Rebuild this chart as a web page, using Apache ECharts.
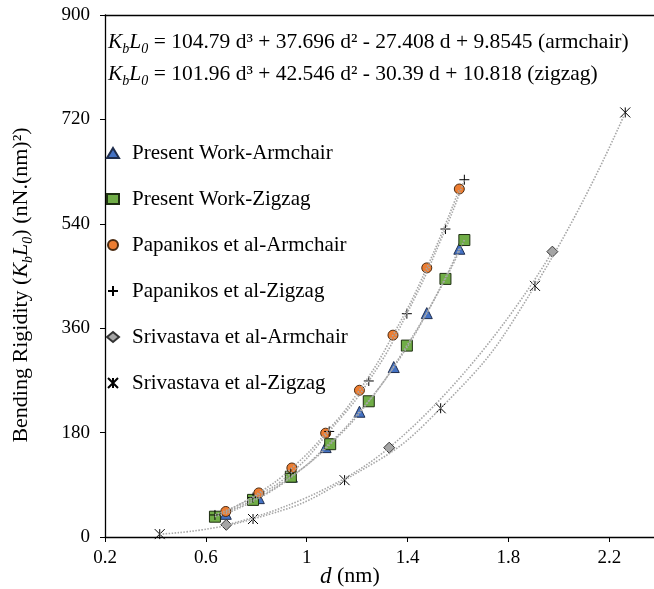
<!DOCTYPE html>
<html>
<head>
<meta charset="utf-8">
<script src="https://cdn.jsdelivr.net/npm/echarts@6/dist/echarts.min.js"></script>
<style>
  html, body { margin: 0; padding: 0; background: #fff; }
  #chart { width: 654px; height: 589px; }
</style>
</head>
<body>
<div id="chart"></div>
<script>
// data: d (nm) and KbL0 (nN.(nm)^2)
var dPresentArm = [0.679, 0.81, 0.941, 1.075, 1.209, 1.345, 1.476, 1.605];
var kPresentArm = [40, 67, 104, 155, 216, 293, 386, 497];
var dPresentZig = [0.636, 0.787, 0.937, 1.093, 1.246, 1.397, 1.55, 1.625];
var kPresentZig = [35, 64, 104, 160, 234, 330, 445, 512];
var dPapArm = [0.679, 0.81, 0.941, 1.075, 1.209, 1.342, 1.476, 1.605];
var kPapArm = [44, 76, 119, 179, 253, 348, 464, 600];
var dPapZig = [0.636, 0.787, 0.937, 1.089, 1.246, 1.397, 1.55, 1.625];
var kPapZig = [38, 68, 110, 182, 269, 385, 531, 616];
var dSriArm = [0.681, 1.327, 1.974];
var kSriArm = [21, 154, 492];
var dSriZig = [0.417, 0.787, 1.15, 1.531, 1.905, 2.263];
var kSriZig = [5, 31, 98, 222, 433, 732];

var xTicks = [0.2, 0.6, 1, 1.4, 1.8, 2.2];

var FONT = '"Liberation Serif", "Times New Roman", serif';
var PLUS = 'path://M5 0 L5 10 M0 5 L10 5';
var STAR = 'path://M0 0 L10 10 M10 0 L0 10 M5 0 L5 10';

function pairs(xs, ys) {
    var out = [];
    for (var i = 0; i < xs.length; i++) out.push([xs[i], ys[i]]);
    return out;
}

// rich styles for K_b L_0
function kbRich(size) {
    return {
        i: { fontFamily: FONT, fontSize: size, fontStyle: 'italic', lineHeight: size + 5 },
        sb: { fontFamily: FONT, fontSize: Math.round(size * 0.65), fontStyle: 'italic', verticalAlign: 'bottom', lineHeight: size + 5 }
    };
}

var markers = [
    { name: 'Present Work-Armchair', d: dPresentArm, k: kPresentArm, symbol: 'triangle', size: 11, color: '#4472C4', border: '#1f2d4d' },
    { name: 'Present Work-Zigzag', d: dPresentZig, k: kPresentZig, symbol: 'rect', size: 11, color: '#70AD47', border: '#1e2e12' },
    { name: 'Papanikos et al-Armchair', d: dPapArm, k: kPapArm, symbol: 'circle', size: 10, color: '#ED7D31', border: '#4a2a10' },
    { name: 'Papanikos et al-Zigzag', d: dPapZig, k: kPapZig, symbol: PLUS, size: 10, color: 'transparent', border: '#000' },
    { name: 'Srivastava et al-Armchair', d: dSriArm, k: kSriArm, symbol: 'diamond', size: 11, color: '#A5A5A5', border: '#333' },
    { name: 'Srivastava et al-Zigzag', d: dSriZig, k: kSriZig, symbol: STAR, size: 10, color: 'transparent', border: '#000' }
];

var series = [];
// dotted trend lines through the same points
markers.forEach(function (m) {
    series.push({
        name: m.name + ' trend',
        type: 'line',
        data: pairs(m.d, m.k),
        smooth: true,
        showSymbol: false,
        silent: true,
        z: 3,
        lineStyle: { color: '#a6a6a6', width: 1.6, type: [1.5, 1.5] }
    });
});
markers.forEach(function (m) {
    series.push({
        name: m.name,
        type: 'scatter',
        data: pairs(m.d, m.k),
        symbol: m.symbol,
        symbolSize: m.size,
        z: 2,
        itemStyle: { color: m.color, borderColor: m.border, borderWidth: 1, opacity: 1 }
    });
});

var chart = echarts.init(document.getElementById('chart'));
chart.setOption({
    animation: false,
    textStyle: { fontFamily: FONT },
    grid: { left: 101, right: 0, top: 15, bottom: 52 },
    legend: {
        orient: 'vertical',
        left: 101,
        top: 136,
        itemWidth: 12,
        itemHeight: 10,
        itemGap: 22,
        data: markers.map(function (m) { return m.name; }),
        textStyle: { fontFamily: FONT, fontSize: 21, color: '#000', lineHeight: 24, padding: [0, 0, 0, 8] }
    },
    xAxis: [{
        type: 'value',
        min: 0.2,
        max: 2.377,
        axisLine: { lineStyle: { color: '#000', width: 1.3 } },
        axisTick: { show: true, length: 5, customValues: xTicks, lineStyle: { color: '#000' } },
        axisLabel: { customValues: xTicks, color: '#000', fontSize: 19, fontFamily: FONT, margin: 12 },
        splitLine: { show: false }
    }, {
        type: 'value',
        position: 'top',
        min: 0.2,
        max: 2.377,
        axisLine: { show: true, lineStyle: { color: '#000', width: 1.3 } },
        axisTick: { show: false },
        axisLabel: { show: false },
        splitLine: { show: false }
    }],
    yAxis: {
        type: 'value',
        min: 0,
        max: 900,
        interval: 180,
        name: 'Bending Rigidity ({i|K}{sb|b}{i|L}{sb|0}) (nN.(nm)²)',
        nameLocation: 'middle',
        nameGap: 70,
        nameTextStyle: {
            fontFamily: FONT, fontSize: 22, color: '#000', lineHeight: 27,
            padding: [0, 18, 0, 0],
            rich: kbRich(22)
        },
        axisLine: { show: true, lineStyle: { color: '#000', width: 1.3 } },
        axisTick: { show: true, length: 5, lineStyle: { color: '#000' } },
        axisLabel: { color: '#000', fontSize: 19, fontFamily: FONT, margin: 15 },
        splitLine: { show: false }
    },
    graphic: [{
        type: 'text',
        left: 108,
        top: 29,
        style: {
            text: '{i|K}{sb|b}{i|L}{sb|0} = 104.79 d³ + 37.696 d² - 27.408 d + 9.8545 (armchair)',
            fontFamily: FONT, fontSize: 21.5, fill: '#000', lineHeight: 27,
            rich: kbRich(21.5)
        }
    }, {
        type: 'text',
        left: 108,
        top: 61,
        style: {
            text: '{i|K}{sb|b}{i|L}{sb|0} = 101.96 d³ + 42.546 d² - 30.39 d + 10.818 (zigzag)',
            fontFamily: FONT, fontSize: 21.5, fill: '#000', lineHeight: 27,
            rich: kbRich(21.5)
        }
    }, {
        type: 'text',
        left: 320,
        top: 565,
        style: {
            text: '{i|d} (nm)',
            fontFamily: FONT, fontSize: 22, fill: '#000',
            rich: { i: { fontFamily: FONT, fontSize: 23, fontStyle: 'italic' } }
        }
    }],
    series: series
});
</script>
</body>
</html>
